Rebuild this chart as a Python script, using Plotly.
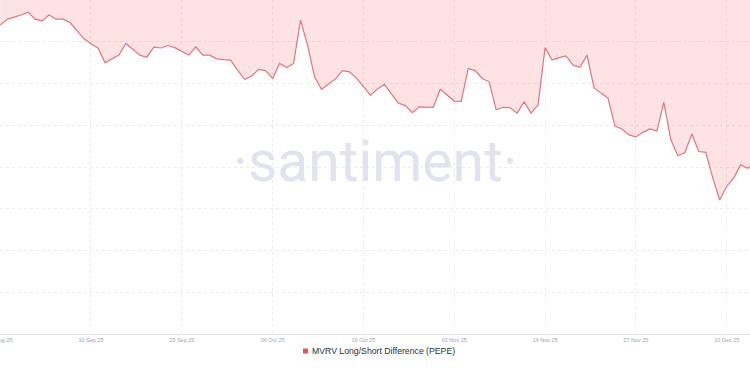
import pandas as pd
import plotly.graph_objects as go

START_DATE = "2025-08-28"
SERIES_NAME = "MVRV Long/Short Difference (PEPE)"

# MVRV Long/Short Difference (%), daily values
mvrv_ls_diff = [
    -6.0, -4.6, -4.1, -3.6, -2.9, -4.6, -5.0, -3.6, -4.6, -4.6,
    -5.4, -7.4, -9.3, -10.5, -11.5, -15.0, -14.1, -13.2, -10.4, -11.7,
    -13.2, -13.7, -11.3, -11.5, -10.9, -11.4, -12.4, -13.2, -11.2, -13.2,
    -13.2, -14.1, -14.3, -14.4, -16.8, -19.0, -18.2, -16.6, -16.9, -18.8,
    -15.2, -16.2, -15.2, -4.8, -10.8, -18.4, -21.4, -20.1, -18.9, -16.9,
    -17.2, -18.7, -20.8, -22.8, -21.3, -20.2, -22.5, -24.7, -25.3, -27.0,
    -25.6, -25.6, -25.7, -21.4, -22.8, -24.2, -24.3, -16.4, -16.9, -18.8,
    -19.6, -26.3, -25.7, -25.8, -27.1, -24.4, -27.1, -25.1, -11.4, -14.4,
    -13.8, -13.4, -15.6, -16.1, -13.2, -21.0, -22.3, -23.5, -30.2, -30.9,
    -32.3, -32.8, -31.7, -30.9, -31.4, -24.5, -33.5, -37.3, -36.6, -32.1,
    -36.3, -36.5, -42.6, -47.9, -44.6, -42.6, -39.5, -40.3, -39.0,
]
dates = pd.date_range(START_DATE, periods=len(mvrv_ls_diff), freq="D")

X_RANGE = ["2025-08-27 23:30", "2025-12-13 08:00"]
Y_RANGE = [-80, 0]

W, H = 750, 375
PLOT_BOTTOM = 334  # px

LINE_COLOR = "#e8737a"
FILL_COLOR = "rgba(248,100,110,0.18)"
GRID_COLOR = "#ebebeb"


def py(p):
    """pixel row -> paper y"""
    return (PLOT_BOTTOM - p) / PLOT_BOTTOM


def px(p):
    return p / W


fig = go.Figure()
fig.add_trace(go.Scatter(
    x=dates, y=mvrv_ls_diff, mode="lines", fill="tozeroy",
    line=dict(color=LINE_COLOR, width=1.2), fillcolor=FILL_COLOR,
    showlegend=False, hoverinfo="skip", name=SERIES_NAME,
))

# watermark
fig.add_annotation(
    text="·santiment·", x=0.5, y=py(161), xref="paper", yref="paper",
    showarrow=False, font=dict(family="Roboto", size=57, color="#e1e4ee"),
    xanchor="center", yanchor="middle",
)

# legend (drawn manually: small square + label)
fig.add_shape(type="rect", xref="paper", yref="paper",
              x0=px(303), x1=px(308), y0=py(348.5), y1=py(353.5),
              fillcolor="#e5525b", line=dict(width=0))
fig.add_annotation(
    text=SERIES_NAME, x=px(309.5), y=py(351), xref="paper", yref="paper",
    showarrow=False, xanchor="left", yanchor="middle",
    font=dict(family="Liberation Sans", size=8.7, color="#2f2f2f"),
)

fig.update_layout(
    width=W, height=H,
    margin=dict(l=0, r=0, t=0, b=H - PLOT_BOTTOM, autoexpand=False),
    paper_bgcolor="white", plot_bgcolor="white",
    font=dict(family="Liberation Sans", color="#333"),
    showlegend=False,
)
fig.update_xaxes(
    range=X_RANGE, tick0=START_DATE, dtick=13 * 86400000,
    tickformat="%d %b %y", tickfont=dict(size=5.5, color="#9ea4ae"),
    ticklabeloverflow="allow", automargin=False,
    showgrid=True, gridcolor=GRID_COLOR, griddash="3px,3px", gridwidth=1,
    showline=True, linecolor="#e6e6e6", linewidth=1, zeroline=False,
    ticks="", ticklen=0,
)
fig.update_yaxes(
    range=Y_RANGE, dtick=10, showticklabels=False, automargin=False,
    showgrid=True, gridcolor=GRID_COLOR, griddash="3px,3px", gridwidth=1,
    zeroline=False, showline=False,
)

fig.write_html("out.html", config={"displayModeBar": False},
               post_script="document.body.style.margin='0px';")
